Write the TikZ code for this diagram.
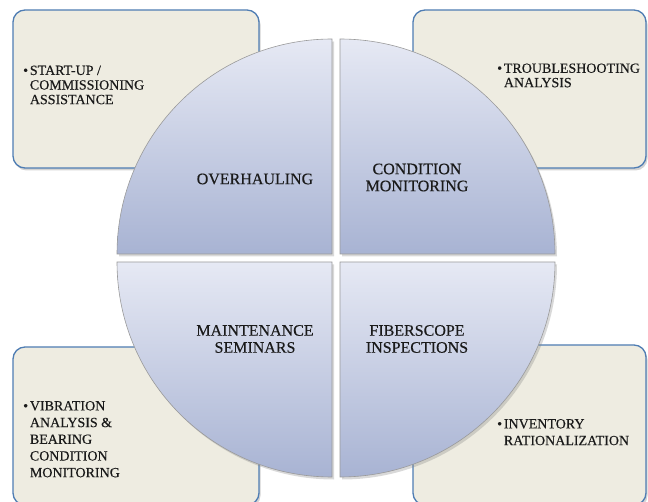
\documentclass[tikz,border=0pt]{standalone}
\usepackage{fontspec}
\setmainfont[FakeBold=0.35,AutoFakeBold=0.35]{Liberation Serif}
\usetikzlibrary{shadows}
\definecolor{boxfill}{HTML}{EEECE1}
\definecolor{boxline}{HTML}{4F7DB3}
\definecolor{qtop}{HTML}{E6E9F4}
\definecolor{qbot}{HTML}{A8B3D3}
\definecolor{qline}{HTML}{9A9A9A}
\definecolor{txt}{HTML}{1A1A1A}
\begin{document}
\begin{tikzpicture}[x=1pt,y=1pt,
  infobox/.style={draw=boxline, line width=1.3pt, fill=boxfill, rounded corners=12pt,
    inner sep=0pt, outer sep=0pt,
    drop shadow={shadow xshift=1.5pt, shadow yshift=-2.5pt, opacity=0.35}},
  quad/.style={draw=qline, line width=0.6pt, top color=qtop, bottom color=qbot,
    drop shadow={shadow xshift=2pt, shadow yshift=-2.5pt, opacity=0.3}},
  qlabel/.style={font=\fontsize{16}{17}\selectfont, text=txt, align=center, inner sep=0pt},
  blabel/.style={text=txt, inner sep=0pt, anchor=north west}]
\useasboundingbox (0,0) rectangle (648,501);
\begin{scope}
\clip (0,0) rectangle (648,501);
% outer boxes
\node[infobox, minimum width=246pt, minimum height=158pt] (b1) at (136,412) {};
\node[infobox, minimum width=233pt, minimum height=158pt] (b2) at (529.5,412) {};
\node[infobox, minimum width=246pt, minimum height=158pt] (b3) at (136,75) {};
\node[infobox, minimum width=233pt, minimum height=160pt] (b4) at (529.5,76) {};
% quadrants
\path[quad] (332,247) -- ++(-215,0) arc[start angle=180, end angle=90, radius=215] -- cycle;
\path[quad] (340,247) -- ++(0,215) arc[start angle=90, end angle=0, radius=215] -- cycle;
\path[quad] (332,239) -- ++(0,-215) arc[start angle=270, end angle=180, radius=215] -- cycle;
\path[quad] (340,239) -- ++(215,0) arc[start angle=0, end angle=-90, radius=215] -- cycle;
\end{scope}
% quadrant labels
\node[qlabel] (q1) at (255,322) {OVERHAULING};
\node[qlabel] (q2) at (417,323.5) {CONDITION\\MONITORING};
\node[qlabel] (q3) at (255,162) {MAINTENANCE\\SEMINARS};
\node[qlabel] (q4) at (417,162) {FIBERSCOPE\\INSPECTIONS};
% box texts
\node[blabel, font=\fontsize{14}{14.6}\selectfont] (t1) at (23,436.5)
  {\begin{tabular}{@{}l@{\hspace{1.8pt}}l@{}}•&START-UP /\\&COMMISSIONING\\&ASSISTANCE\end{tabular}};
\node[blabel, font=\fontsize{14}{14.4}\selectfont] (t2) at (497,438.5)
  {\begin{tabular}{@{}l@{\hspace{1.8pt}}l@{}}•&TROUBLESHOOTING\\&ANALYSIS\end{tabular}};
\node[blabel, font=\fontsize{14}{16.7}\selectfont] (t3) at (23,102.5)
  {\begin{tabular}{@{}l@{\hspace{1.8pt}}l@{}}•&VIBRATION\\&ANALYSIS \&\\&BEARING\\&CONDITION\\&MONITORING\end{tabular}};
\node[blabel, font=\fontsize{14}{16.7}\selectfont] (t4) at (497,84.5)
  {\begin{tabular}{@{}l@{\hspace{1.8pt}}l@{}}•&INVENTORY\\&RATIONALIZATION\end{tabular}};
\end{tikzpicture}
\end{document}
